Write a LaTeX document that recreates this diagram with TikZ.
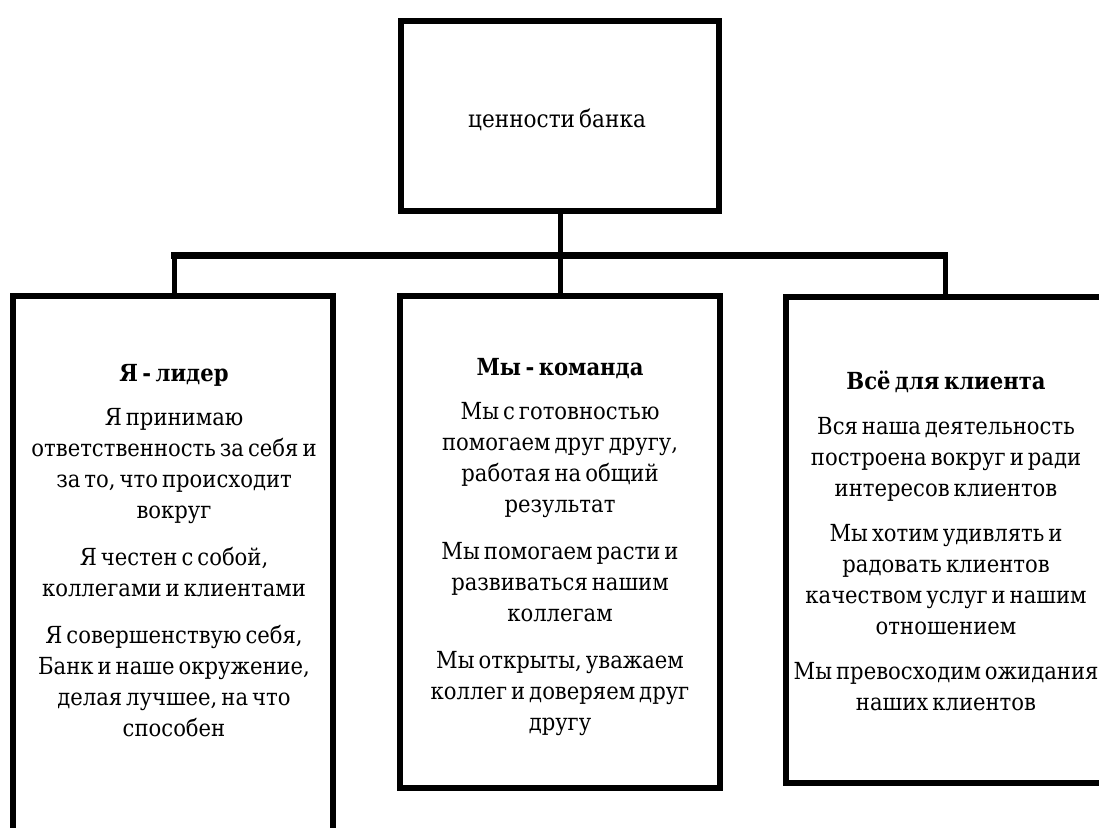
\documentclass[tikz,border=0pt]{standalone}
\usepackage{fontspec}
\newfontfamily\vfont{DejaVu Serif Condensed}[WordSpace=0.6]
\begin{document}
\begin{tikzpicture}[x=1pt,y=-1pt,
  valbox/.style={draw=black, line width=6pt, rectangle, inner sep=0pt},
  valtext/.style={align=center, inner sep=0pt, font=\vfont\fontsize{23.5}{31}\selectfont},
  topbox/.style={draw=black, line width=6pt, rectangle, inner sep=0pt},
  toptext/.style={inner sep=0pt, font=\vfont\fontsize{24}{28}\selectfont},
  link/.style={draw=black, line width=5pt},
  bar/.style={draw=black, line width=6.5pt}]
\useasboundingbox (0,0) rectangle (1099,827);
\fill[white] (0,0) rectangle (1099,827);

\node[topbox, minimum width=318pt, minimum height=190pt] (root) at (560,116) {};
\node[toptext] (roottext) at (557,120) {ценности банка};

\node[valbox, minimum width=320pt, minimum height=560pt] (lead) at (172.5,576) {};
\node[valtext] (leadtext) at (174,551)
 {\textbf{Я - лидер}\\[13pt]
  Я принимаю\\ответственность за себя и\\за то, что происходит\\вокруг\\[16pt]
  Я честен с собой,\\коллегами и клиентами\\[16pt]
  Я совершенствую себя,\\Банк и наше окружение,\\делая лучшее, на что\\способен};

\node[valbox, minimum width=320pt, minimum height=492pt] (team) at (560,542) {};
\node[valtext] (teamtext) at (560,547)
 {\textbf{Мы - команда}\\[13pt]
  Мы с готовностью\\помогаем друг другу,\\работая на общий\\результат\\[16pt]
  Мы помогаем расти и\\развиваться нашим\\коллегам\\[16pt]
  Мы открыты, уважаем\\коллег и доверяем друг\\другу};

\node[valbox, minimum width=324pt, minimum height=486pt] (client) at (948,539.5) {};
\node[valtext] (clienttext) at (946,541)
 {\textbf{Всё для клиента}\\[14pt]
  Вся наша деятельность\\построена вокруг и ради\\интересов клиентов\\[14pt]
  Мы хотим удивлять и\\радовать клиентов\\качеством услуг и нашим\\отношением\\[14pt]
  Мы превосходим ожидания\\наших клиентов};

\coordinate (bl) at (174.5,255.5);
\coordinate (bm) at (560,255.5);
\coordinate (br) at (945,255.5);
\draw[link] (root.south) -- (team.north);
\draw[link] (lead.north -| bl) -- (bl);
\draw[link] (client.north -| br) -- (br);
\draw[bar, line cap=rect] (bl) -- (br);
\end{tikzpicture}
\end{document}
